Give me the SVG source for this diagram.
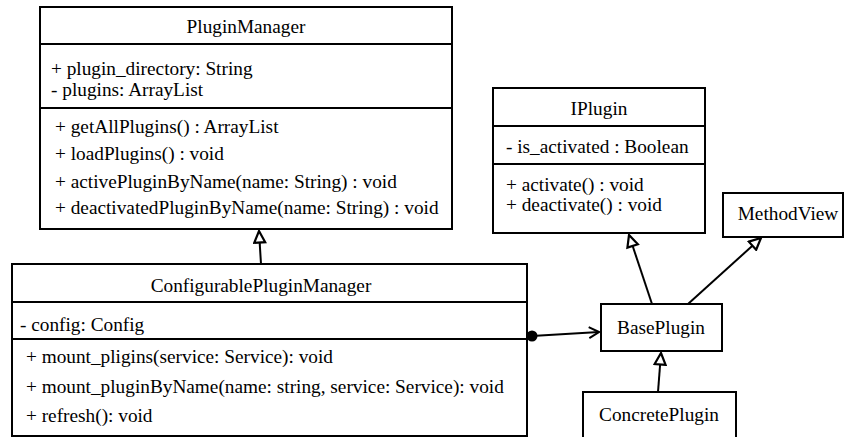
<svg xmlns="http://www.w3.org/2000/svg" width="844" height="437" viewBox="0 0 844 437">
  <style>
    .box { fill: #ffffff; stroke: #000000; stroke-width: 2; }
    .sep { stroke: #000000; stroke-width: 2; }
    text { font-family: "Liberation Serif", "Times New Roman", Times, serif; font-size: 19.3px; fill: #000000; }
    .title { text-anchor: middle; }
    .edge { fill: none; stroke: #000000; stroke-width: 2; }
  </style>
  <defs>
    <marker id="inherit" viewBox="0 0 14 14" refX="13" refY="7" markerWidth="14" markerHeight="14" markerUnits="userSpaceOnUse" orient="auto">
      <path d="M1.5,1.5 L13,7 L1.5,12.5 Z" fill="#ffffff" stroke="#000000" stroke-width="2.2"/>
    </marker>
    <marker id="open" viewBox="0 0 14 14" refX="12" refY="7" markerWidth="14" markerHeight="14" markerUnits="userSpaceOnUse" orient="auto">
      <path d="M2,1.5 L12,7 L2,12.5" fill="none" stroke="#000000" stroke-width="2"/>
    </marker>
  </defs>

  <!-- PluginManager -->
  <g id="PluginManager">
    <rect class="box" x="40" y="7" width="412" height="222"/>
    <line class="sep" x1="40" y1="44" x2="452" y2="44"/>
    <line class="sep" x1="40" y1="108" x2="452" y2="108"/>
    <text class="title" x="246" y="33">PluginManager</text>
    <text x="51" y="75">+ plugin_directory: String</text>
    <text x="51" y="96">- plugins: ArrayList</text>
    <text x="55" y="133">+ getAllPlugins() : ArrayList</text>
    <text x="55" y="160">+ loadPlugins() : void</text>
    <text x="55" y="188">+ activePluginByName(name: String) : void</text>
    <text x="55" y="214">+ deactivatedPluginByName(name: String) : void</text>
  </g>

  <!-- ConfigurablePluginManager -->
  <g id="ConfigurablePluginManager">
    <rect class="box" x="12" y="264" width="515" height="172"/>
    <line class="sep" x1="12" y1="302" x2="527" y2="302"/>
    <line class="sep" x1="12" y1="339" x2="527" y2="339"/>
    <text class="title" x="261" y="292">ConfigurablePluginManager</text>
    <text x="20" y="331">- config: Config</text>
    <text x="26" y="363">+ mount_pligins(service: Service): void</text>
    <text x="26" y="393">+ mount_pluginByName(name: string, service: Service): void</text>
    <text x="26" y="422">+ refresh(): void</text>
  </g>

  <!-- IPlugin -->
  <g id="IPlugin">
    <rect class="box" x="493" y="88" width="212" height="145"/>
    <line class="sep" x1="493" y1="126" x2="705" y2="126"/>
    <line class="sep" x1="493" y1="164" x2="705" y2="164"/>
    <text class="title" x="599" y="115">IPlugin</text>
    <text x="506" y="153">- is_activated : Boolean</text>
    <text x="506" y="191">+ activate() : void</text>
    <text x="506" y="211">+ deactivate() : void</text>
  </g>

  <!-- MethodView -->
  <g id="MethodView">
    <rect class="box" x="723" y="193" width="120" height="44"/>
    <text class="title" x="788" y="220">MethodView</text>
  </g>

  <!-- BasePlugin -->
  <g id="BasePlugin">
    <rect class="box" x="601" y="304" width="121" height="47"/>
    <text class="title" x="661" y="334">BasePlugin</text>
  </g>

  <!-- ConcretePlugin -->
  <g id="ConcretePlugin">
    <rect class="box" x="583" y="392" width="153" height="50"/>
    <text class="title" x="659" y="421">ConcretePlugin</text>
  </g>

  <!-- Connectors -->
  <g id="connectors">
    <line class="edge" x1="261" y1="264" x2="259" y2="231" marker-end="url(#inherit)"/>
    <line class="edge" x1="652" y1="304" x2="629" y2="235" marker-end="url(#inherit)"/>
    <line class="edge" x1="688" y1="304" x2="761" y2="238" marker-end="url(#inherit)"/>
    <line class="edge" x1="658" y1="392" x2="661" y2="353" marker-end="url(#inherit)"/>
    <line class="edge" x1="532" y1="336" x2="599" y2="332" marker-end="url(#open)"/>
    <circle cx="532" cy="336" r="5.5" fill="#000000"/>
  </g>
</svg>
